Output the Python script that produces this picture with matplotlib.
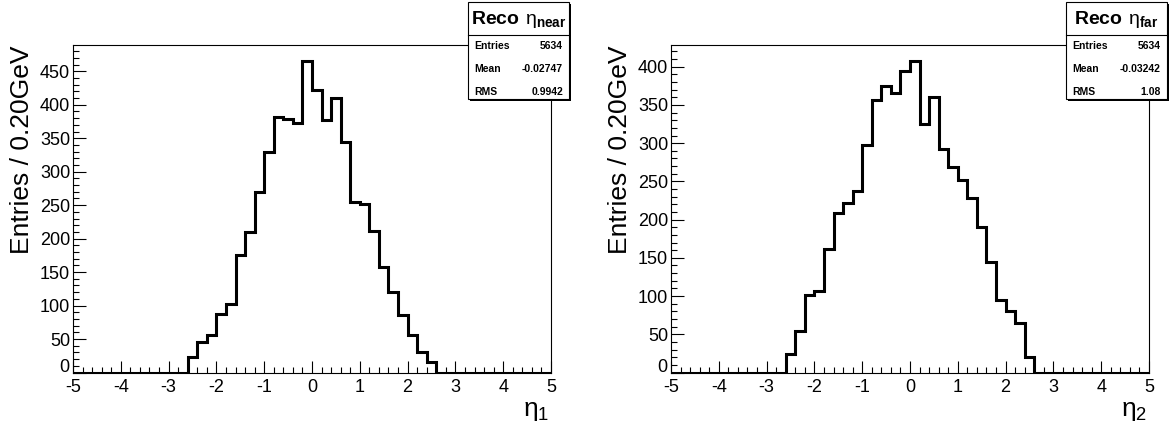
#plot the reconstructed eta of the near and far objects
import numpy as np
import matplotlib
matplotlib.use("Agg")
import matplotlib.pyplot as plt
from matplotlib.ticker import MultipleLocator, AutoMinorLocator
from matplotlib.patches import Rectangle

plt.rcParams['font.family'] = ['Liberation Sans', 'DejaVu Sans']
plt.rcParams['mathtext.fontset'] = 'custom'
plt.rcParams['mathtext.rm'] = 'Liberation Sans'
plt.rcParams['mathtext.bf'] = 'Liberation Sans:bold'
plt.rcParams['mathtext.default'] = 'regular'
plt.rcParams['axes.unicode_minus'] = False

# 0.2 wide bins from -5 to 5, only bins between -2.6 and 2.6 are filled
bin_lo, bin_hi, bin_w = -5.0, 5.0, 0.2
first_filled = -2.6
eta_near = [23, 46, 56, 88, 103, 176, 210, 270, 330, 382, 378, 373, 466,
            422, 377, 410, 344, 255, 252, 212, 157, 121, 86, 56, 30, 15]
eta_far = [24, 54, 101, 107, 161, 208, 222, 238, 298, 356, 375, 365, 395,
           408, 325, 361, 292, 269, 252, 228, 190, 145, 95, 81, 65, 20]
near_stats = ["5634", "-0.02747", "0.9942"]
far_stats = ["5634", "-0.03242", "1.08"]
stat_names = ["Entries", "Mean", "RMS"]

W, H = 1174, 429
fig = plt.figure(figsize=(W/100, H/100), dpi=100)

def fx(px):
    return px / W

def fy(py):
    return 1 - py / H

nbins = int(round((bin_hi - bin_lo) / bin_w))
edges = np.linspace(bin_lo, bin_hi, nbins + 1)
npad = int(round((first_filled - bin_lo) / bin_w))

panels = [
    (eta_near, near_stats, "near", "1", 73, 551),
    (eta_far, far_stats, "far", "2", 671, 1149),
]

for counts, stats, tag, idx, x0, x1 in panels:
    full = np.zeros(nbins)
    full[npad:npad + len(counts)] = counts
    ax = fig.add_axes([fx(x0), fy(372.5), fx(x1 - x0), (372.5 - 45) / H])
    ax.stairs(full, edges, color='black', lw=2.2, baseline=None)
    ax.set_xlim(bin_lo, bin_hi)
    ax.set_ylim(0, 1.05 * max(counts))
    ax.xaxis.set_major_locator(MultipleLocator(1))
    ax.xaxis.set_minor_locator(AutoMinorLocator(5))
    ax.yaxis.set_major_locator(MultipleLocator(50))
    ax.yaxis.set_minor_locator(AutoMinorLocator(5))
    ax.tick_params(which='both', direction='in', top=False, right=False,
                   labelsize=13, width=0.8)
    ax.tick_params(which='major', length=9)
    ax.tick_params(which='minor', length=4.5)
    ax.tick_params(axis='x', pad=5)
    ax.tick_params(axis='y', pad=2)
    for s in ax.spines.values():
        s.set_linewidth(0.8)
    # the zero label is written separately, a bit higher so it clears "-5"
    ax.yaxis.set_major_formatter(
        plt.FuncFormatter(lambda v, p: "" if v == 0 else "%d" % v))
    fig.text(fx(x0 - 4), fy(367), "0", ha='right', va='center', fontsize=13)

    # axis titles, aligned to the end of the axes like ROOT does
    fig.text(fx(x0 - 51), fy(45), "Entries / 0.20GeV", rotation=90,
             ha='center', va='top', fontsize=19)
    fig.text(fx(x1 - 2), fy(411), r"$η_{%s}$" % idx, ha='right', va='center',
             fontsize=19)

    # stat box
    bx0, bx1, by0, by1, bsep = x1 - 83, x1 + 18, 2, 99, 35
    fig.patches.append(Rectangle((fx(bx0 + 2), fy(by1 + 2)), fx(bx1 - bx0),
                                 (by1 - by0) / H, transform=fig.transFigure,
                                 facecolor='black', edgecolor='none', zorder=5))
    fig.patches.append(Rectangle((fx(bx0), fy(by1)), fx(bx1 - bx0),
                                 (by1 - by0) / H, transform=fig.transFigure,
                                 facecolor='white', edgecolor='black', lw=0.8,
                                 zorder=6))
    fig.add_artist(plt.Line2D([fx(bx0), fx(bx1)], [fy(bsep), fy(bsep)],
                              color='black', lw=0.8, zorder=7))
    fig.text(fx((bx0 + bx1) / 2), fy(19),
             r"$\mathbf{Reco}\ η_{\mathbf{%s}}$" % tag,
             ha='center', va='center', fontsize=14, zorder=8)
    for k, (name, val) in enumerate(zip(stat_names, stats)):
        yy = fy(46 + k * 23)
        fig.text(fx(bx0 + 6), yy, name, ha='left', va='center', fontsize=7.5,
                 fontweight='bold', zorder=8)
        fig.text(fx(bx1 - 6), yy, val, ha='right', va='center', fontsize=7.5,
                 fontweight='bold', zorder=8)

plt.savefig("out.png", dpi=100)
